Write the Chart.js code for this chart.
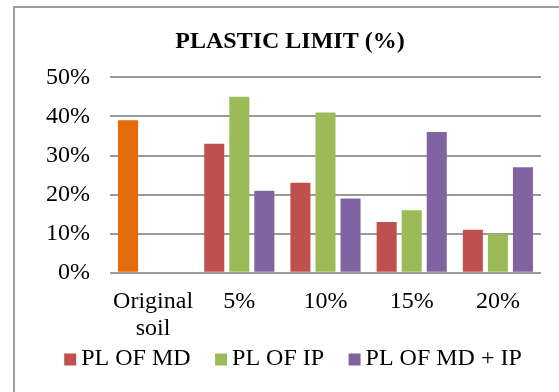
<!DOCTYPE html>
<html>
<head>
<meta charset="utf-8">
<script src="https://cdn.jsdelivr.net/npm/chart.js@4.4.1/dist/chart.umd.min.js"></script>
<style>
  html, body { margin: 0; padding: 0; background: #fff; }
  #wrap { position: relative; width: 559px; height: 392px; overflow: hidden; }
  #frame { position: absolute; left: 13px; top: 6px; width: 620px; height: 460px;
           border-left: 2px solid #9e9e9e; border-top: 2px solid #9e9e9e; }
  canvas { position: absolute; left: 0; top: 0; }
</style>
</head>
<body>
<div id="wrap">
  <div id="frame"></div>
  <canvas id="chart" width="559" height="392"></canvas>
</div>
<script>
// Plastic limit by additive content
const categories = ['Original soil', '5%', '10%', '15%', '20%'];
const plMD   = [39, 33, 23, 13, 11];
const plIP   = [null, 45, 41, 16, 10];
const plMDIP = [null, 21, 19, 36, 27];
const seriesNames = ['PL OF MD', 'PL OF IP', 'PL OF MD + IP'];
const yTickStep = 10;
const yMax = 50;

const COLORS = {
  original: '#E46C0A',
  md: '#C0504D',
  ip: '#9BBB59',
  mdip: '#8064A2'
};
const SERIF = "'Liberation Serif', 'Times New Roman', serif";

// Row of square swatches + labels under the axis
const legendRow = {
  id: 'legendRow',
  afterDraw(chart) {
    const ctx = chart.ctx;
    const box = 12, gapText = 5, gapItem = 24.5;
    ctx.save();
    ctx.font = '24px ' + SERIF;
    const items = chart.data.datasets.map(ds => ({
      text: ds.label,
      color: ds.swatch,
      w: ctx.measureText(ds.label).width
    }));
    const total = items.reduce((s, it) => s + box + gapText + it.w, 0) + gapItem * (items.length - 1);
    const cx = (chart.titleBlock.left + chart.titleBlock.right) / 2 + 3;
    let x = cx - total / 2;
    const y = chart.height - 33.5;
    ctx.textBaseline = 'middle';
    ctx.textAlign = 'left';
    items.forEach(it => {
      ctx.fillStyle = it.color;
      ctx.fillRect(x, y - 5, box, box);
      x += box + gapText;
      ctx.fillStyle = '#000';
      ctx.fillText(it.text, x, y);
      x += it.w + gapItem;
    });
    ctx.restore();
  }
};

const barShape = { categoryPercentage: 0.872, barPercentage: 0.8, borderWidth: 0 };

new Chart(document.getElementById('chart'), {
  type: 'bar',
  data: {
    labels: categories.map(c => c.includes(' ') ? c.split(' ') : c),
    datasets: [
      Object.assign({
        label: seriesNames[0],
        data: plMD,
        swatch: COLORS.md,
        backgroundColor: plMD.map((v, i) => i === 0 ? COLORS.original : COLORS.md)
      }, barShape),
      Object.assign({
        label: seriesNames[1],
        data: plIP,
        swatch: COLORS.ip,
        backgroundColor: COLORS.ip
      }, barShape),
      Object.assign({
        label: seriesNames[2],
        data: plMDIP,
        swatch: COLORS.mdip,
        backgroundColor: COLORS.mdip
      }, barShape)
    ]
  },
  plugins: [legendRow],
  options: {
    responsive: false,
    animation: false,
    devicePixelRatio: 1,
    layout: { padding: { left: 39, right: 18, top: 0, bottom: 34 } },
    plugins: {
      legend: { display: false },
      tooltip: { enabled: false },
      title: {
        display: true,
        text: 'PLASTIC LIMIT (%)',
        color: '#000',
        font: { family: SERIF, size: 24, weight: 'bold', lineHeight: 1.2 },
        padding: { top: 27, bottom: 21.5 }
      }
    },
    scales: {
      x: {
        offset: true,
        grid: { display: false, drawTicks: false },
        border: { display: false },
        ticks: {
          color: '#000',
          font: { family: SERIF, size: 24, lineHeight: 1.15 },
          padding: 15,
          maxRotation: 0,
          autoSkip: false
        }
      },
      y: {
        min: 0,
        max: yMax,
        grid: { color: '#9a9a9a', lineWidth: 2, drawTicks: false },
        border: { display: false },
        ticks: {
          stepSize: yTickStep,
          color: '#000',
          font: { family: SERIF, size: 24 },
          padding: 20,
          callback: v => v + '%'
        },
        afterFit(scale) { scale.width = 71; }
      }
    }
  }
});
</script>
</body>
</html>
